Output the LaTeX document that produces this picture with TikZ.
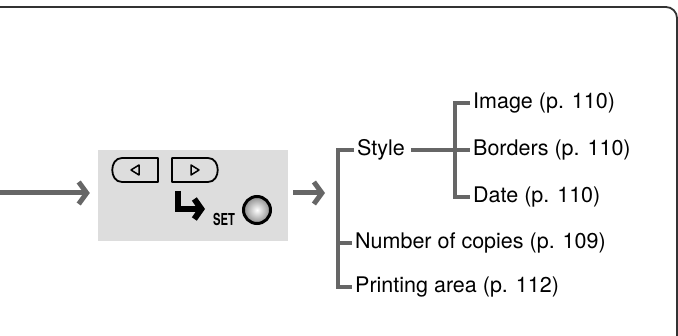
\documentclass[tikz,border=0pt]{standalone}
\usepackage{fontspec}
\setmainfont{TeX Gyre Heros}
\usepackage{graphicx}
\usetikzlibrary{positioning, arrows.meta}
\definecolor{linegray}{HTML}{666666}
\definecolor{panelgray}{HTML}{DDDDDD}
\definecolor{framegray}{HTML}{333333}

\begin{document}
\begin{tikzpicture}[
    x=1pt, y=-1pt,
    item/.style={
        anchor=west,
        inner sep=3pt,
        font=\fontsize{21.5pt}{26pt}\selectfont
    },
    branch/.style={
        draw=linegray,
        line width=4pt
    },
    flow/.style={
        draw=linegray,
        line width=5pt,
        -{Straight Barb[length=8pt, width=22pt]}
    },
    panel/.style={
        fill=panelgray,
        minimum width=190pt,
        minimum height=91pt,
        inner sep=0pt
    },
    btn/.style={
        draw=black,
        line width=1.8pt,
        line join=round
    }
]
\useasboundingbox (0,0) rectangle (678,336);

% outer frame
\draw[framegray, line width=1.8pt, rounded corners=11pt] (0,7) -- (677,7) -- (677,345);

% control panel
\node[panel] (panel) at (193,195.5) {};
\draw[btn] (158,158) -- (122,158) .. controls (109,158) and (109,182) .. (122,182) -- (158,182) -- cycle;
\draw[btn] (172,158) -- (208,158) .. controls (221,158) and (221,182) .. (208,182) -- (172,182) -- cycle;
\draw[btn, line width=1.5pt] (131,170) -- (139,165) -- (139,175) -- cycle;
\draw[btn, line width=1.5pt] (199,170) -- (191,165) -- (191,175) -- cycle;
\draw[line width=6pt, -{Straight Barb[length=7pt, width=20pt]}] (178,191) |- (205,209);
\node[inner sep=0pt, font=\bfseries\fontsize{16.5pt}{18pt}\selectfont] (setkey) at (224,219) {\scalebox{0.68}[1]{SET}};
\shade[inner color=white, outer color=black!45] (257,210) circle[radius=13.5];
\draw[line width=3pt] (257,210) circle[radius=13.5];

% menu items
\node[item] (style) at (354,150) {Style};
\node[item] (image) at (470,103) {Image (p. 110)};
\node[item] (borders) at (470,150) {Borders (p. 110)};
\node[item] (date) at (470,197) {Date (p. 110)};
\node[item] (copies) at (352,243) {Number of copies (p. 109)};
\node[item] (area) at (352,287) {Printing area (p. 112)};

\coordinate (entry) at (0,193);
\coordinate (trunk) at (338,193);
\coordinate (subtrunk) at (455,150);

% arrows
\draw[flow, shorten >=8pt] (entry) -- (entry -| panel.west);
\draw[flow] ([xshift=5pt]panel.east |- entry) -- ([xshift=-13pt]trunk);

% tree
\draw[branch] (style.west) -| (trunk |- area.west) -- (area.west);
\draw[branch] (trunk |- copies.west) -- (copies.west);
\draw[branch] (image.west) -| (subtrunk |- date.west) -- (date.west);
\draw[branch] ([xshift=3pt]style.east) -- (borders.west);

\end{tikzpicture}
\end{document}
